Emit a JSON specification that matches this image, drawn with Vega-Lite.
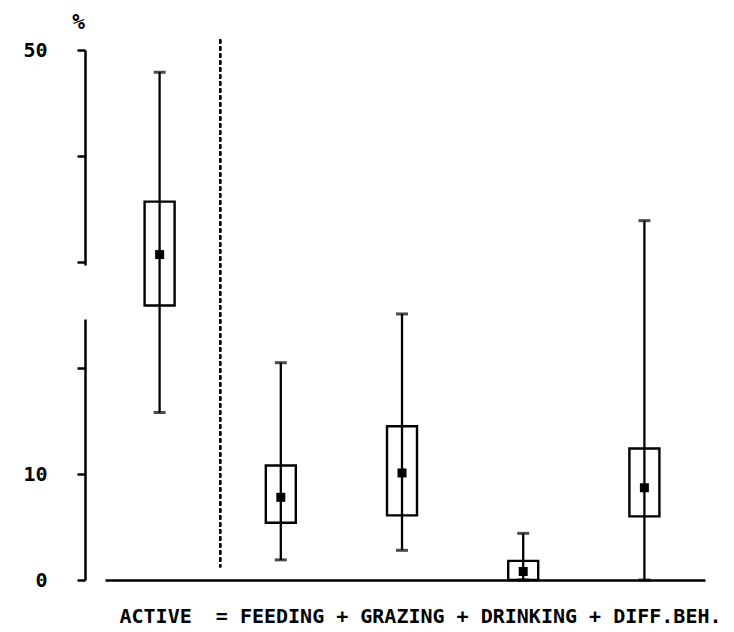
{
  "$schema": "https://vega.github.io/schema/vega-lite/v6.json",
  "width": 620,
  "height": 530,
  "autosize": "none",
  "padding": {"left": 85, "top": 50, "right": 29, "bottom": 52},
  "background": "white",
  "config": {
    "view": {"stroke": null},
    "font": "DejaVu Sans Mono",
    "axis": {"grid": false}
  },
  "data": {
    "values": [
      {"cat": "ACTIVE", "low": 15.8, "q1": 25.9, "med": 30.7, "q3": 35.7, "high": 47.9},
      {"cat": "FEEDING", "low": 1.9, "q1": 5.4, "med": 7.8, "q3": 10.8, "high": 20.5},
      {"cat": "GRAZING", "low": 2.8, "q1": 6.1, "med": 10.1, "q3": 14.5, "high": 25.1},
      {"cat": "DRINKING", "low": 0, "q1": 0, "med": 0.8, "q3": 1.8, "high": 4.4},
      {"cat": "DIFF.BEH.", "low": 0, "q1": 6.0, "med": 8.7, "q3": 12.4, "high": 33.9}
    ]
  },
  "layer": [
    {
      "mark": {"type": "bar", "fill": "white", "stroke": "black", "strokeWidth": 2.4, "width": 30},
      "encoding": {
        "x": {
          "field": "cat",
          "type": "nominal",
          "sort": null,
          "scale": {
            "type": "band",
            "domain": ["ACTIVE", "FEEDING", "GRAZING", "DRINKING", "DIFF.BEH."],
            "paddingInner": 0,
            "paddingOuter": 0.0578,
            "align": 1
          },
          "axis": {
            "labels": false,
            "ticks": false,
            "domainColor": "black",
            "domainWidth": 2.5,
            "domainDash": [0, 20, 1000],
            "title": "ACTIVE\u00a0 = FEEDING + GRAZING + DRINKING + DIFF.BEH.",
            "titleFont": "DejaVu Sans Mono",
            "titleFontWeight": "bold",
            "titleFontSize": 20,
            "titleColor": "black",
            "titleX": 335,
            "titleY": 42,
            "titleAlign": "center",
            "titleBaseline": "alphabetic"
          }
        },
        "y": {
          "field": "q1",
          "type": "quantitative",
          "scale": {"domain": [0, 50], "nice": false, "zero": true},
          "axis": {
            "values": [0, 10, 20, 30, 40, 50],
            "labelExpr": "datum.value == 0 || datum.value == 10 || datum.value == 50 ? datum.label : ''",
            "labelFont": "DejaVu Sans Mono",
            "labelFontWeight": "bold",
            "labelFontSize": 20,
            "labelColor": "black",
            "labelPadding": 30,
            "tickSize": 8,
            "tickWidth": 2.5,
            "tickColor": "black",
            "domainColor": "black",
            "domainWidth": 2.5,
            "domainDash": [261, 54, 1000],
            "title": "%",
            "titleAngle": 0,
            "titleFont": "DejaVu Sans Mono",
            "titleFontWeight": "bold",
            "titleFontSize": 21,
            "titleColor": "black",
            "titleX": -7,
            "titleY": -28,
            "titleAlign": "center",
            "titleBaseline": "middle"
          }
        },
        "y2": {"field": "q3"}
      }
    },
    {
      "mark": {"type": "rule", "color": "black", "strokeWidth": 2.3},
      "encoding": {
        "x": {"field": "cat", "type": "nominal"},
        "y": {"field": "low", "type": "quantitative"},
        "y2": {"field": "high"}
      }
    },
    {
      "mark": {"type": "tick", "color": "black", "orient": "horizontal", "size": 12, "thickness": 3},
      "encoding": {
        "x": {"field": "cat", "type": "nominal"},
        "y": {"field": "low", "type": "quantitative"}
      }
    },
    {
      "mark": {"type": "tick", "color": "black", "orient": "horizontal", "size": 12, "thickness": 3},
      "encoding": {
        "x": {"field": "cat", "type": "nominal"},
        "y": {"field": "high", "type": "quantitative"}
      }
    },
    {
      "mark": {"type": "point", "shape": "square", "filled": true, "color": "black", "size": 81, "opacity": 1},
      "encoding": {
        "x": {"field": "cat", "type": "nominal"},
        "y": {"field": "med", "type": "quantitative"}
      }
    },
    {
      "mark": {"type": "rule", "color": "black", "strokeWidth": 2, "strokeDash": [4, 3]},
      "encoding": {
        "x": {"datum": "FEEDING", "bandPosition": 0},
        "y": {"datum": 51},
        "y2": {"datum": 1.2}
      }
    }
  ]
}
